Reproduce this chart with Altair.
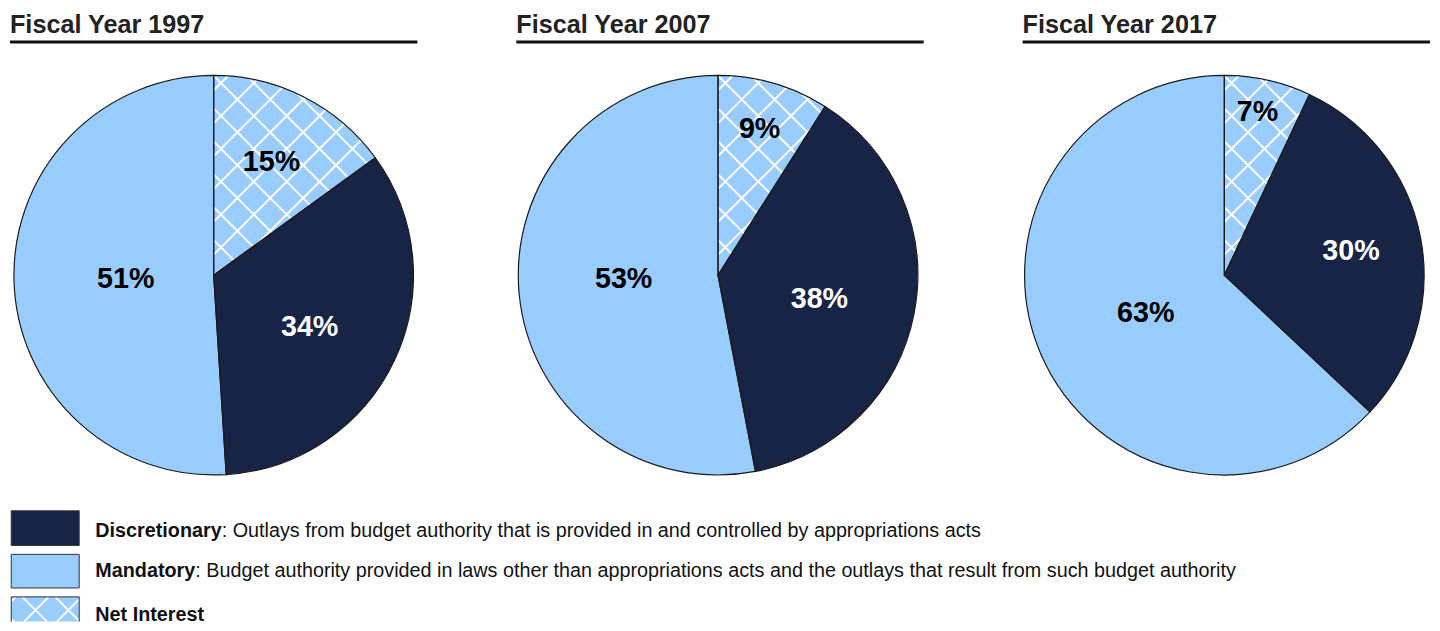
import math
import altair as alt
import pandas as pd

# ---------------- data ----------------
years = ["1997", "2007", "2017"]
titles = ["Fiscal Year 1997", "Fiscal Year 2007", "Fiscal Year 2017"]
categories = ["Net Interest", "Discretionary", "Mandatory"]
net_interest = [15, 9, 7]
discretionary = [34, 38, 30]
mandatory = [51, 53, 63]

legend_names = ["Discretionary", "Mandatory", "Net Interest"]
legend_desc = [
    ": Outlays from budget authority that is provided in and controlled by appropriations acts",
    ": Budget authority provided in laws other than appropriations acts and the outlays that result from such budget authority",
    "",
]

# ---------------- layout / style ----------------
PANEL_W, PANEL_H = 412, 470
GAP = 96
CX = [206, 204, 204]
CY = 266.7
R = 202
HATCH = 23.5
PH1, PH2 = 8.8, 1.6
NAVY = "#172445"
LIGHT = "#99CCFF"
EDGE = "#1a1a1a"
FONT = "Liberation Sans"

# label radius (px) and angle shift (deg) from slice middle
LABEL_R = {
    ("1997", "Net Interest"): 129.6, ("1997", "Discretionary"): 109.5, ("1997", "Mandatory"): 89,
    ("2007", "Net Interest"): 155.5, ("2007", "Discretionary"): 104.9, ("2007", "Mandatory"): 95.5,
    ("2017", "Net Interest"): 170, ("2017", "Discretionary"): 130.6, ("2017", "Mandatory"): 87.6,
}
LABEL_DA = {
    ("1997", "Net Interest"): -0.2, ("1997", "Discretionary"): 2.4, ("1997", "Mandatory"): 0.3,
    ("2007", "Net Interest"): -0.5, ("2007", "Discretionary"): 1.5, ("2007", "Mandatory"): 4.0,
    ("2017", "Net Interest"): -1.2, ("2017", "Discretionary"): -0.6, ("2017", "Mandatory"): -1.4,
}

LEG_H = 123
LEG_X0, LEG_X1 = 1.3, 70
LEG_Y0 = [11, 55, 98]
LEG_Y1 = [46, 89, LEG_H]
LEG_BASE = [37.5, 78, 122]
LEG_TX = 86.3
LEG_FS = 20
LEG_BOLD_W = [127.8, 101.1, 0]


def clip_line(p0, t, halfplanes, lo, hi):
    """halfplanes: list of (n, c) meaning n.p >= c"""
    for n, c in halfplanes:
        a = n[0] * p0[0] + n[1] * p0[1] - c
        b = n[0] * t[0] + n[1] * t[1]
        if abs(b) < 1e-12:
            if a < 0:
                return None
        else:
            t0 = -a / b
            if b > 0:
                lo = max(lo, t0)
            else:
                hi = min(hi, t0)
    if hi - lo <= 0.5:
        return None
    return lo, hi


S2 = 1 / math.sqrt(2)
FAMS = [((S2, -S2), (S2, S2), PH1), ((S2, S2), (S2, -S2), PH2)]


def wedge_hatch(cx, cy, frac):
    th = 2 * math.pi * frac
    hp = [((1.0, 0.0), 0.0), ((-math.cos(th), math.sin(th)), 0.0)]
    rows = []
    K = int(R / HATCH) + 2
    for nh, tv, ph in FAMS:
        for k in range(-K, K + 1):
            d = k * HATCH + ph
            if abs(d) >= R - 0.5:
                continue
            h = math.sqrt(R * R - d * d)
            p0 = (d * nh[0], d * nh[1])
            res = clip_line(p0, tv, hp, -h, h)
            if res is None:
                continue
            lo, hi = res
            rows.append({
                "x": cx + p0[0] + lo * tv[0], "y": cy - (p0[1] + lo * tv[1]),
                "x2": cx + p0[0] + hi * tv[0], "y2": cy - (p0[1] + hi * tv[1]),
            })
    return pd.DataFrame(rows)


def rect_hatch(x0, x1, y0, y1, ph1, ph2):
    hp = [((1.0, 0.0), x0), ((-1.0, 0.0), -x1), ((0.0, 1.0), y0), ((0.0, -1.0), -y1)]
    rows = []
    for (nh, tv, _), ph in zip(FAMS, (ph1, ph2)):
        for k in range(-30, 31):
            d = k * HATCH + ph
            p0 = (d * nh[0], d * nh[1])
            res = clip_line(p0, tv, hp, -5000, 5000)
            if res is None:
                continue
            lo, hi = res
            rows.append({
                "x": p0[0] + lo * tv[0], "y": p0[1] + lo * tv[1],
                "x2": p0[0] + hi * tv[0], "y2": p0[1] + hi * tv[1],
            })
    return pd.DataFrame(rows)


series = [net_interest, discretionary, mandatory]
color_scale = alt.Scale(domain=categories, range=[LIGHT, NAVY, LIGHT])

panels = []
for i, yr in enumerate(years):
    df = pd.DataFrame({
        "year": [yr] * 3,
        "cat": categories,
        "value": [series[j][i] for j in range(3)],
        "order": [0, 1, 2],
    })
    df["lr"] = [LABEL_R[(yr, c)] for c in categories]
    df["da"] = [LABEL_DA[(yr, c)] for c in categories]
    df["label"] = [f"{v}%" for v in df["value"]]
    cx = CX[i]

    base = alt.Chart(df)
    arcs = base.mark_arc(outerRadius=R, strokeWidth=0).encode(
        theta=alt.Theta("value:Q", stack=True),
        color=alt.Color("cat:N", scale=color_scale, legend=None),
        order=alt.Order("order:Q"),
        x=alt.value(cx), y=alt.value(CY),
    )
    hdf = wedge_hatch(cx, CY, net_interest[i] / 100)
    hatch = alt.Chart(hdf).mark_rule(color="white", strokeWidth=2).encode(
        x=alt.X("x:Q", scale=None, axis=None), y=alt.Y("y:Q", scale=None, axis=None),
        x2="x2:Q", y2="y2:Q",
    )
    outline = base.mark_arc(outerRadius=R, fillOpacity=0, stroke=EDGE, strokeWidth=1.2).encode(
        theta=alt.Theta("value:Q", stack=True),
        order=alt.Order("order:Q"),
        x=alt.value(cx), y=alt.value(CY),
    )
    labels = base.transform_joinaggregate(
        total="sum(value)"
    ).transform_window(
        cum="sum(value)", sort=[alt.SortField("order")], frame=[None, 0]
    ).transform_calculate(
        ang="(datum.cum - datum.value / 2) / datum.total * 2 * PI + datum.da * PI / 180"
    ).mark_text(font=FONT, fontSize=29, fontWeight="bold", align="center", baseline="middle").encode(
        theta=alt.Theta("ang:Q", scale=None),
        radius=alt.Radius("lr:Q", scale=None),
        text="label:N",
        color=alt.condition(alt.datum.cat == "Discretionary", alt.value("white"), alt.value("black")),
        x=alt.value(cx), y=alt.value(CY + 1.5),
    )
    tdf = pd.DataFrame({"t": [titles[i]]})
    title = alt.Chart(tdf).mark_text(
        font=FONT, fontSize=25.5, fontWeight="bold", align="left", baseline="alphabetic", color="#222222"
    ).encode(text="t:N", x=alt.value(0), y=alt.value(22))
    uline = alt.Chart(tdf).mark_rule(color="#111111", strokeWidth=3).encode(
        x=alt.value(0), x2=alt.value(PANEL_W), y=alt.value(31)
    )
    panel = alt.layer(arcs, hatch, outline, labels, title, uline).properties(
        width=PANEL_W, height=PANEL_H
    )
    panels.append(panel)

row = alt.hconcat(*panels, spacing=GAP)

# ---------------- legend ----------------
ldf = pd.DataFrame({
    "name": legend_names,
    "desc": legend_desc,
    "y0": LEG_Y0, "y1": LEG_Y1, "yb": LEG_BASE,
    "xd": [LEG_TX + w for w in LEG_BOLD_W],
})
lbase = alt.Chart(ldf)
leg_fill = alt.Fill("name:N", scale=alt.Scale(domain=legend_names, range=[NAVY, LIGHT, LIGHT]), legend=None)
boxes = alt.Chart(ldf.iloc[:2]).mark_rect(stroke="#333333", strokeWidth=1).encode(
    x=alt.value(LEG_X0), x2=alt.value(LEG_X1),
    y=alt.Y("y0:Q", scale=None, axis=None), y2="y1:Q",
    fill=leg_fill,
)
box3 = alt.Chart(ldf.iloc[[2]]).mark_rect(strokeWidth=0).encode(
    x=alt.value(LEG_X0), x2=alt.value(LEG_X1),
    y=alt.Y("y0:Q", scale=None, axis=None), y2="y1:Q",
    fill=leg_fill,
)
lh = rect_hatch(LEG_X0 + 0.5, LEG_X1 - 0.5, LEG_Y0[2] + 0.5, LEG_Y1[2], 10, 3)
lhatch = alt.Chart(lh).mark_rule(color="white", strokeWidth=2).encode(
    x=alt.X("x:Q", scale=None, axis=None), y=alt.Y("y:Q", scale=None, axis=None),
    x2="x2:Q", y2="y2:Q",
)
one = pd.DataFrame({"k": [0]})
edge_top = alt.Chart(one).mark_rule(color="#333333", strokeWidth=1).encode(
    x=alt.value(LEG_X0), x2=alt.value(LEG_X1), y=alt.value(LEG_Y0[2])
)
edge_l = alt.Chart(one).mark_rule(color="#333333", strokeWidth=1).encode(
    x=alt.value(LEG_X0), y=alt.value(LEG_Y0[2]), y2=alt.value(LEG_Y1[2])
)
edge_r = alt.Chart(one).mark_rule(color="#333333", strokeWidth=1).encode(
    x=alt.value(LEG_X1), y=alt.value(LEG_Y0[2]), y2=alt.value(LEG_Y1[2])
)
bold = lbase.mark_text(font=FONT, fontSize=LEG_FS, fontWeight="bold", align="left",
                       baseline="alphabetic", color="#111111").encode(
    text="name:N", x=alt.value(LEG_TX), y=alt.Y("yb:Q", scale=None, axis=None),
)
normal = lbase.mark_text(font=FONT, fontSize=LEG_FS, align="left",
                         baseline="alphabetic", color="#111111").encode(
    text="desc:N", x=alt.X("xd:Q", scale=None, axis=None), y=alt.Y("yb:Q", scale=None, axis=None),
)
legend = alt.layer(boxes, box3, lhatch, edge_top, edge_l, edge_r, bold, normal).properties(
    width=3 * PANEL_W + 2 * GAP, height=LEG_H
)

chart = alt.vconcat(row, legend, spacing=22).properties(
    padding=0, background="white"
).configure_view(stroke=None)

chart.save("out.html", embed_options={"renderer": "svg", "actions": False})
